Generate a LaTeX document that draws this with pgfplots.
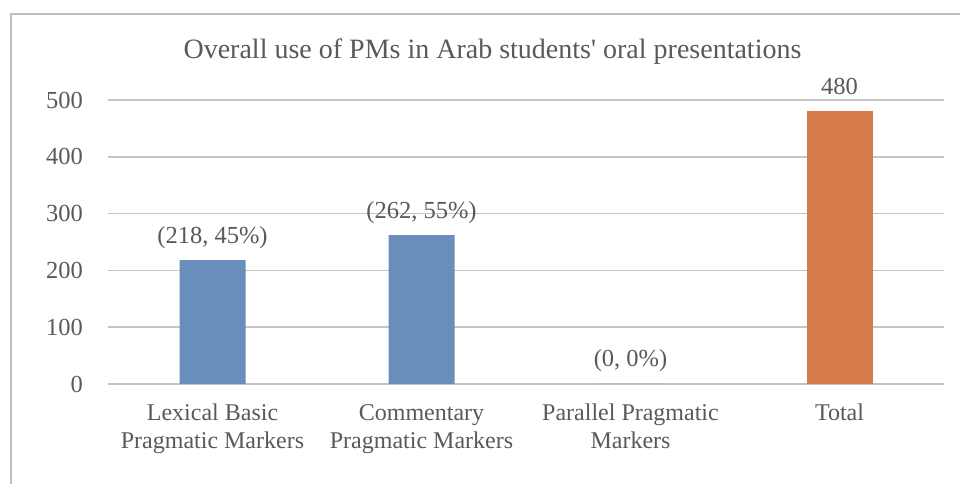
\documentclass[border=0pt]{standalone}
\usepackage{pgfplots}
\pgfplotsset{compat=1.18}
\usepackage{fontspec}
\setmainfont{Liberation Serif}
\newfontfamily\titlefont{Liberation Serif}
\definecolor{txt}{HTML}{595959}
\definecolor{gridc}{HTML}{C4C4C4}
\definecolor{framec}{HTML}{BFBFBF}
\definecolor{barblue}{HTML}{6A8EBB}
\definecolor{barorange}{HTML}{D67D4B}
\begin{document}
\begin{tikzpicture}[x=1pt,y=1pt]
\useasboundingbox (0,0) rectangle (960,484);
\draw[framec, line width=2pt] (11,0) -- (11,470) -- (960,470);
\node[txt, font=\titlefont\fontsize{28}{32}\selectfont, inner sep=0] at (492.5,432) {Overall use of PMs in Arab students' oral presentations};
\begin{axis}[
  at={(108pt,100pt)}, anchor=south west,
  scale only axis, width=836pt, height=284pt,
  xmin=-0.5, xmax=3.5, ymin=0, ymax=500,
  axis line style={draw=none},
  major tick length=0pt,
  ytick={0,100,...,500},
  ymajorgrids, grid style={gridc, line width=1.5pt},
  xtick={0,1,2,3},
  xticklabels={{Lexical Basic\\Pragmatic Markers},{Commentary\\Pragmatic Markers},{Parallel Pragmatic\\Markers},{Total}},
  xticklabel style={txt, font=\fontsize{24}{28}\selectfont, align=center, anchor=north, inner sep=0pt, yshift=-20pt},
  yticklabel style={txt, font=\fontsize{24.5}{28}\selectfont, anchor=east, inner sep=0pt, xshift=-25pt},
  /pgf/number format/assume math mode=true,
  clip=false,
  nodes near coords style={txt, font=\fontsize{24.5}{28}\selectfont, anchor=base, inner sep=0pt, yshift=17pt},
]
\addplot[ybar, bar width=66pt, bar shift=0pt, fill=barblue, draw=none, nodes near coords, point meta=explicit symbolic]
 table[x=x, y=y, meta=lab, col sep=semicolon, row sep=\\] {
 x;y;lab\\
 0;218;(218, 45\%)\\
 1;262;(262, 55\%)\\
 2;0;(0, 0\%)\\
 };
\addplot[ybar, bar width=66pt, bar shift=0pt, fill=barorange, draw=none, nodes near coords, point meta=explicit symbolic]
 table[x=x, y=y, meta=lab, col sep=semicolon, row sep=\\] {
 x;y;lab\\
 3;480;480\\
 };
\end{axis}
\end{tikzpicture}
\end{document}
